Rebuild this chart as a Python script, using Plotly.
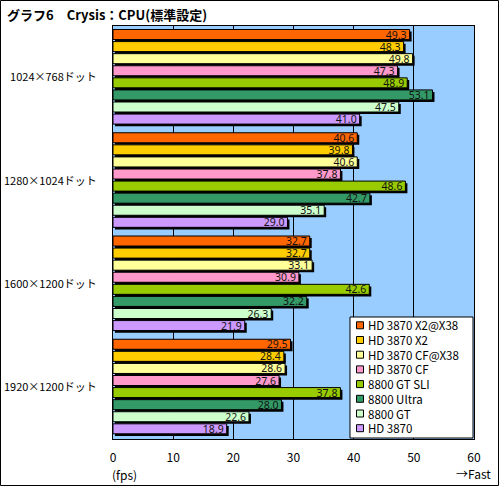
import plotly.graph_objects as go

# 解像度
resolutions = ["1024×768ドット", "1280×1024ドット", "1600×1200ドット", "1920×1200ドット"]

# fps
hd3870x2_x38 = [49.3, 40.6, 32.7, 29.5]
hd3870x2 = [48.3, 39.8, 32.7, 28.4]
hd3870cf_x38 = [49.8, 40.6, 33.1, 28.6]
hd3870cf = [47.3, 37.8, 30.9, 27.6]
gt8800sli = [48.9, 48.6, 42.6, 37.8]
ultra8800 = [53.1, 42.7, 32.2, 28.0]
gt8800 = [47.5, 35.1, 26.3, 22.6]
hd3870 = [41.0, 29.0, 21.9, 18.9]

names = ["HD 3870 X2@X38", "HD 3870 X2", "HD 3870 CF@X38", "HD 3870 CF",
         "8800 GT SLI", "8800 Ultra", "8800 GT", "HD 3870"]
series = [hd3870x2_x38, hd3870x2, hd3870cf_x38, hd3870cf,
          gt8800sli, ultra8800, gt8800, hd3870]
colors = ["#FF6600", "#FFCC00", "#FFFF99", "#FF99CC",
          "#99CC00", "#339966", "#CCFFCC", "#CC99FF"]

font = "Noto Sans CJK JP"
W, H = 500, 487
ml, mr, mt, mb = 113, 26, 26, 48
pw, ph = W - ml - mr, H - mt - mb

def px(x):  # ピクセル -> paper
    return (x - ml) / pw

def py(y):
    return (H - mb - y) / ph

slot = 0.117
bw = 0.097
start = -0.466

fig = go.Figure()

# 影
for i, vals in enumerate(series):
    fig.add_trace(go.Bar(
        y=resolutions, x=vals, base=0.33, orientation="h",
        offset=start + i * slot + 0.02, width=bw,
        marker=dict(color="black", line=dict(width=0)),
        showlegend=False, hoverinfo="skip"))

for i, vals in enumerate(series):
    fig.add_trace(go.Bar(
        y=resolutions, x=vals, orientation="h", name=names[i],
        offset=start + i * slot, width=bw,
        marker=dict(color=colors[i], line=dict(color="black", width=1)),
        text=["%.1f" % v for v in vals], textposition="inside",
        insidetextanchor="end", textangle=0,
        textfont=dict(family="Noto Sans", size=10.5, color="#111111"),
        constraintext="none", showlegend=False))

fig.update_layout(
    width=W, height=H, barmode="overlay",
    margin=dict(l=ml, r=mr, t=mt, b=mb, autoexpand=False),
    paper_bgcolor="white", plot_bgcolor="#99CCFF",
    font=dict(family=font, size=12, color="black"),
    title=dict(text="<b>グラフ6　Crysis：CPU(標準設定)</b>", x=7 / W, xanchor="left",
               y=1 - 15 / H, yanchor="middle", font=dict(size=13, family=font)),
    xaxis=dict(range=[0, 60], dtick=10, showgrid=True, gridcolor="black", gridwidth=1,
               showline=True, linecolor="black", mirror=True, zeroline=False,
               ticks="", ticklabelstandoff=8, tickfont=dict(size=12), automargin=False),
    yaxis=dict(autorange="reversed", showline=True, linecolor="black", mirror=True,
               ticks="", ticklabelstandoff=13, tickfont=dict(size=11), showgrid=False,
               automargin=False),
    showlegend=False,
)

fig.add_annotation(text="(fps)", xref="paper", yref="paper", x=px(110), y=py(474),
                   showarrow=False, xanchor="left", yanchor="middle", font=dict(size=12))
fig.add_annotation(text="→Fast", xref="paper", yref="paper", x=px(473), y=py(473),
                   showarrow=False, xanchor="center", yanchor="middle", font=dict(size=12))

# 凡例
fig.add_shape(type="rect", xref="paper", yref="paper",
              x0=px(350), x1=px(473), y0=py(438), y1=py(317),
              fillcolor="white", line=dict(color="black", width=1))
for i, name in enumerate(names):
    yc = 325.3 + i * 14.7
    fig.add_shape(type="rect", xref="paper", yref="paper",
                  x0=px(356.5), x1=px(363.5), y0=py(yc + 3.5), y1=py(yc - 3.5),
                  fillcolor=colors[i], line=dict(color="black", width=1))
    fig.add_annotation(text=name, xref="paper", yref="paper", x=px(366), y=py(yc),
                       showarrow=False, xanchor="left", yanchor="middle",
                       font=dict(size=11.5))

# 外枠
fig.add_shape(type="rect", xref="paper", yref="paper",
              x0=px(0.5), x1=px(W - 1.5), y0=py(H - 1.5), y1=py(0.5),
              line=dict(color="black", width=1))

fig.write_html("out.html", config={"displayModeBar": False},
               post_script="document.body.style.margin='0';")
